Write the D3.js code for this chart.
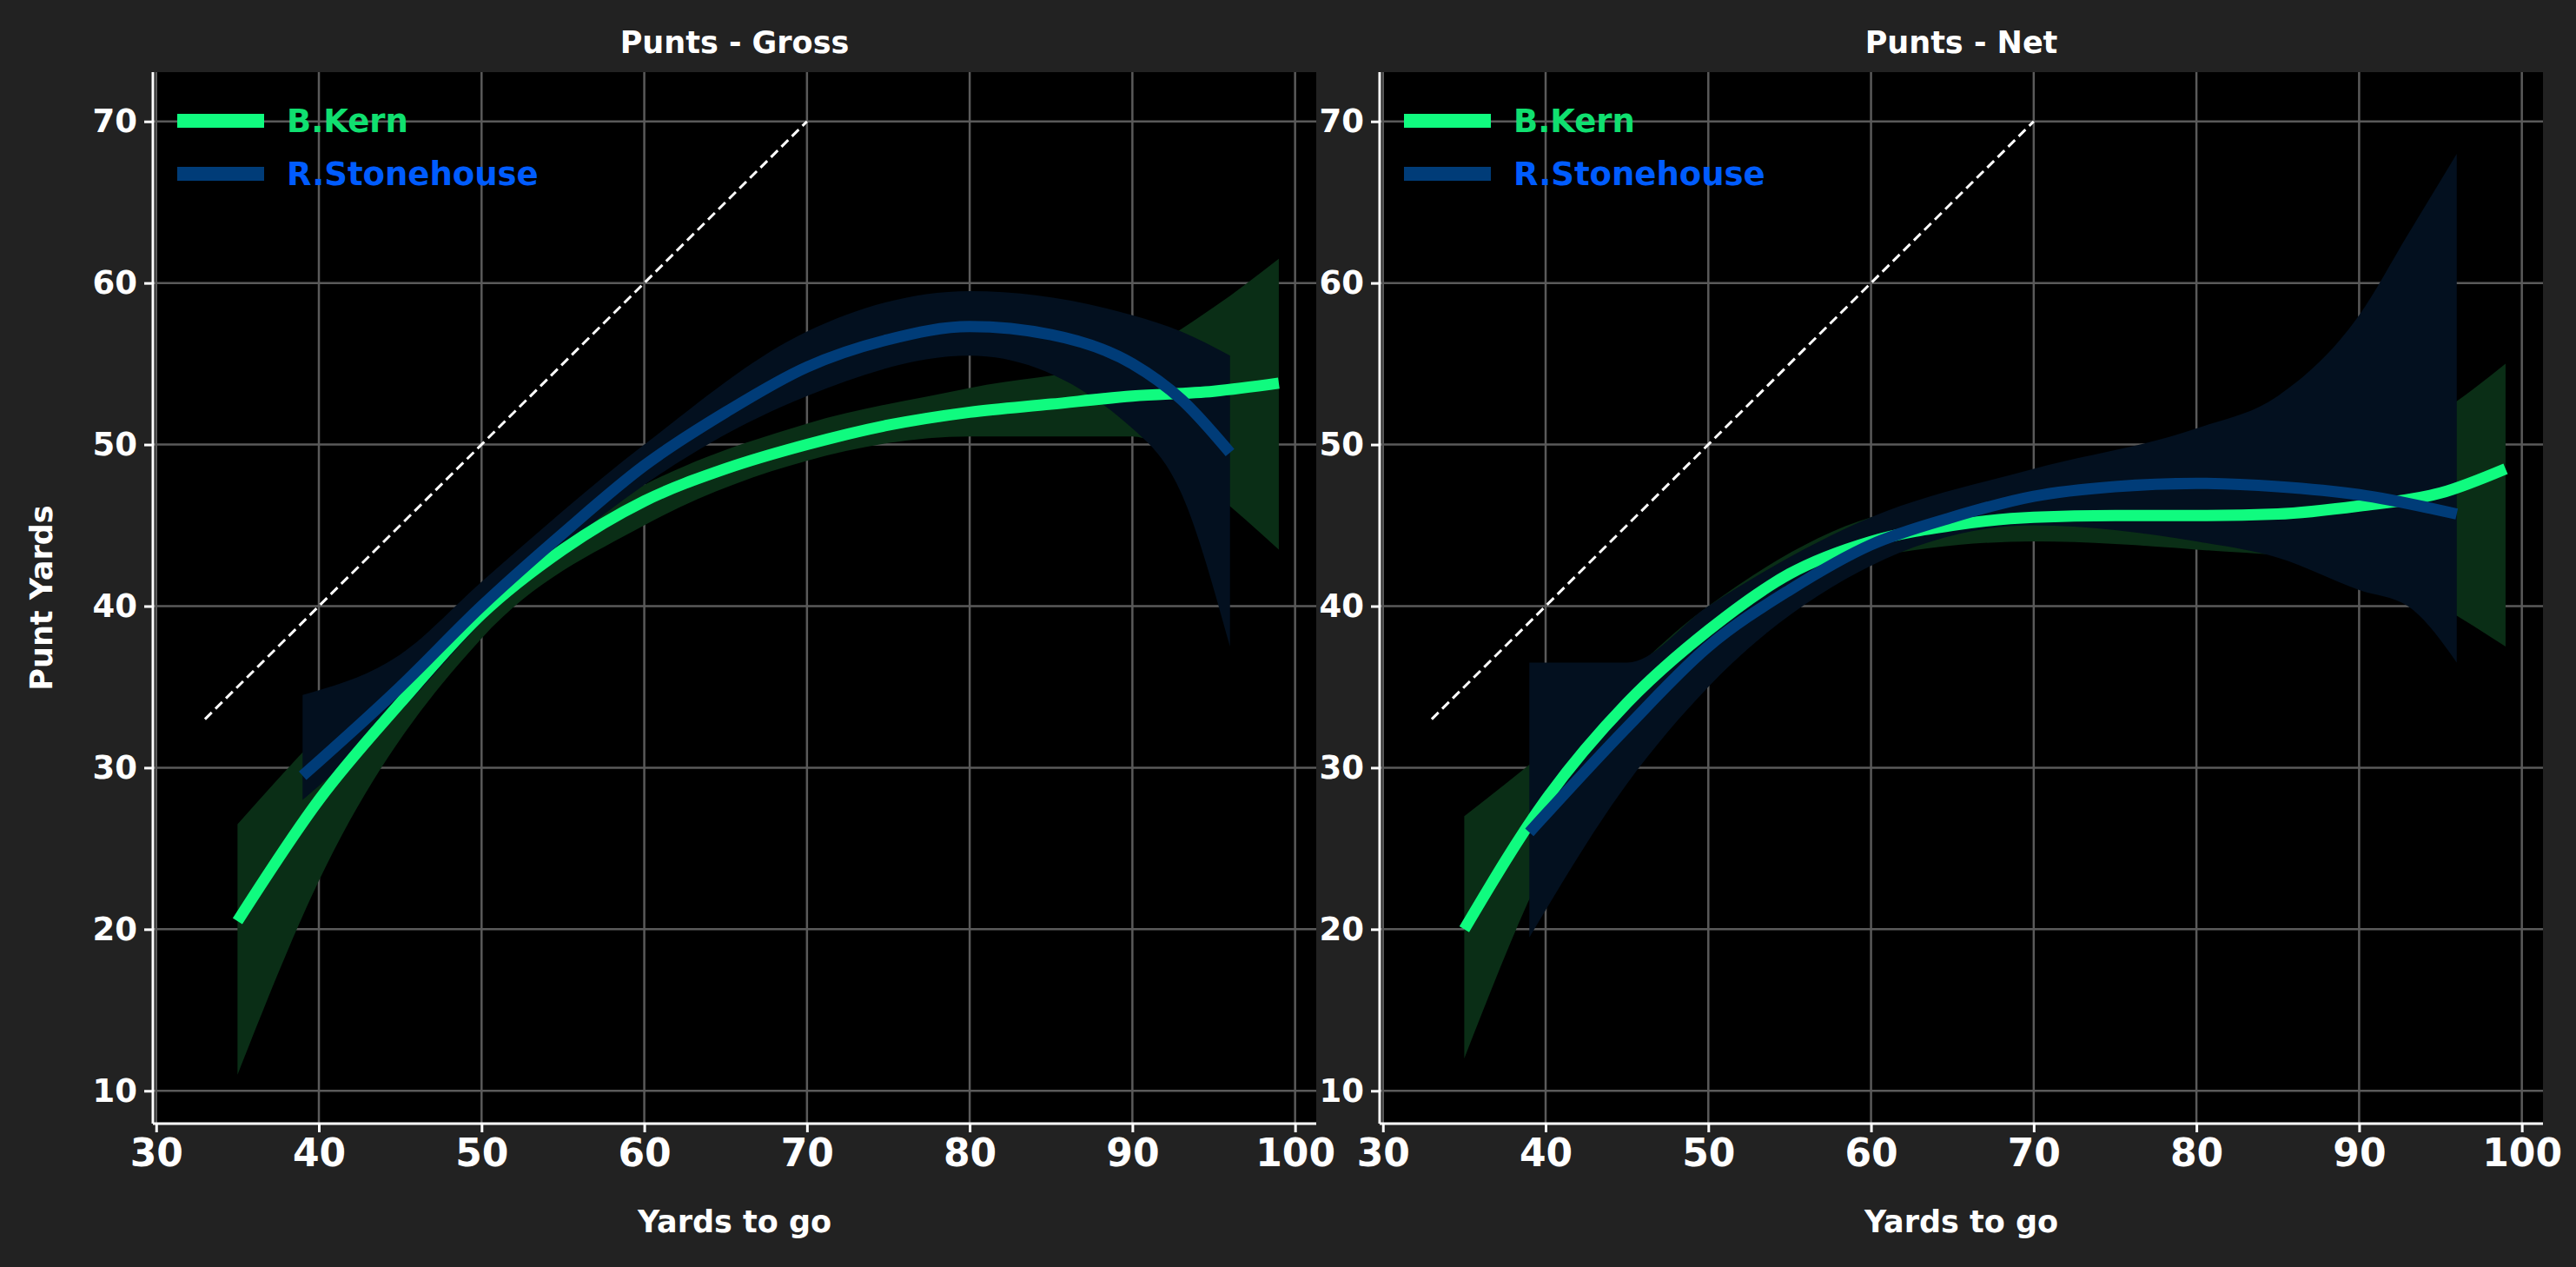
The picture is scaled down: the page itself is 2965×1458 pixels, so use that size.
<!DOCTYPE html>
<html><head><meta charset="utf-8">
<script src="https://cdn.jsdelivr.net/npm/d3@7"></script>
<style>body{margin:0;background:#222222;} text{font-family:"DejaVu Sans",sans-serif;font-weight:bold;}</style>
</head><body>
<script>
// data
const xTicks = [30, 40, 50, 60, 70, 80, 90, 100];
const yTicks = [10, 20, 30, 40, 50, 60, 70];
const diagonal = [[33, 33], [70, 70]];

const grossKernX = [35, 40, 45, 50, 55, 60, 65, 70, 75, 80, 85, 90, 95, 99];
const grossKernY = [20.5, 28, 34, 39.5, 43.5, 46.5, 48.5, 50, 51.2, 52, 52.5, 53, 53.3, 53.8];
const grossKernBandX = [35, 40, 50, 60, 70, 80, 90, 95, 99];
const grossKernLo = [11, 23, 38, 45, 49, 50.5, 50.5, 47, 43.5];
const grossKernHi = [26.5, 32, 41, 47.5, 51.3, 53.5, 55.5, 58.5, 61.5];

const grossStoneX = [39, 45, 50, 55, 60, 65, 70, 75, 80, 85, 90, 93, 96];
const grossStoneY = [29.5, 35, 40, 44.5, 48.7, 52, 54.8, 56.5, 57.3, 56.8, 55, 52.8, 49.5];
const grossStoneBandX = [39, 45, 50, 60, 70, 80, 90, 93, 96];
const grossStoneLo = [28, 33.5, 39, 47.5, 53, 55.5, 51, 47, 37.5];
const grossStoneHi = [34.5, 37, 41.5, 50, 57, 59.5, 58, 57, 55.5];

const netKernX = [35, 40, 45, 50, 55, 60, 65, 70, 75, 80, 85, 90, 95, 99];
const netKernY = [20, 28, 34, 38.5, 42, 44, 45, 45.5, 45.6, 45.6, 45.7, 46.2, 47, 48.5];
const netKernBandX = [35, 40, 50, 60, 70, 80, 90, 95, 99];
const netKernLo = [12, 24, 37, 43, 44, 43.5, 42.5, 40, 37.5];
const netKernHi = [27, 31, 40, 45.5, 47, 47.5, 49.5, 52, 55];

const netStoneX = [39, 45, 50, 55, 60, 65, 70, 75, 80, 85, 90, 96];
const netStoneY = [26, 32.5, 37.5, 41, 43.8, 45.5, 46.8, 47.4, 47.6, 47.4, 46.9, 45.7];
const netStoneBandX = [39, 45, 50, 60, 70, 80, 85, 90, 93, 96];
const netStoneLo = [19.5, 29, 35, 42.5, 45, 44, 43, 41, 40, 36.5];
const netStoneHi = [36.5, 36.5, 40, 45.5, 48.5, 51, 53, 58, 63, 68];

const panels = [
  {title: "Punts - Gross", left: 176, showY: true, series: [
    {name: "B.Kern", x: grossKernX, y: grossKernY, bx: grossKernBandX, lo: grossKernLo, hi: grossKernHi},
    {name: "R.Stonehouse", x: grossStoneX, y: grossStoneY, bx: grossStoneBandX, lo: grossStoneLo, hi: grossStoneHi}]},
  {title: "Punts - Net", left: 1588, showY: false, series: [
    {name: "B.Kern", x: netKernX, y: netKernY, bx: netKernBandX, lo: netKernLo, hi: netKernHi},
    {name: "R.Stonehouse", x: netStoneX, y: netStoneY, bx: netStoneBandX, lo: netStoneLo, hi: netStoneHi}]}
];
const lineColor = {"B.Kern": "#10fb7f", "R.Stonehouse": "#003c78"};
const textColor = {"B.Kern": "#10e070", "R.Stonehouse": "#005cff"};
const bandColor = {"B.Kern": "#0a2e16", "R.Stonehouse": "#03101f"};

const W = 2965, H = 1458, pw = 1339, plotTop = 83, plotBottom = 1293;
const svg = d3.select("body").append("svg").attr("width", W).attr("height", H);
svg.append("rect").attr("width", W).attr("height", H).attr("fill", "#222222");

panels.forEach(p => {
  const x = d3.scaleLinear().domain([29.8, 101.3]).range([p.left, p.left + pw]);
  const y = d3.scaleLinear().domain([7.97, 73.05]).range([plotBottom, plotTop]);
  const g = svg.append("g");
  g.append("rect").attr("x", p.left).attr("y", plotTop).attr("width", pw).attr("height", plotBottom - plotTop).attr("fill", "#000");

  // grid
  g.selectAll(".gx").data(xTicks).join("line").attr("x1", d => x(d)).attr("x2", d => x(d))
    .attr("y1", plotTop).attr("y2", plotBottom).attr("stroke", "#5a5a5a").attr("stroke-width", 2.5);
  g.selectAll(".gy").data(yTicks).join("line").attr("y1", d => y(d)).attr("y2", d => y(d))
    .attr("x1", p.left).attr("x2", p.left + pw).attr("stroke", "#5a5a5a").attr("stroke-width", 2.5);

  // bands
  p.series.forEach(s => {
    const pts = s.bx.map((v, i) => ({x: v, lo: s.lo[i], hi: s.hi[i]}));
    const area = d3.area().curve(d3.curveMonotoneX).x(d => x(d.x)).y0(d => y(d.lo)).y1(d => y(d.hi));
    g.append("path").attr("d", area(pts)).attr("fill", bandColor[s.name]);
  });

  g.append("line").attr("x1", x(diagonal[0][0])).attr("y1", y(diagonal[0][1]))
    .attr("x2", x(diagonal[1][0])).attr("y2", y(diagonal[1][1]))
    .attr("stroke", "#fff").attr("stroke-width", 3).attr("stroke-dasharray", "11,6");

  // lines: Kern first, Stonehouse on top
  p.series.forEach(s => {
    const line = d3.line().curve(d3.curveMonotoneX).x(d => x(d[0])).y(d => y(d[1]));
    g.append("path").attr("d", line(s.x.map((v, i) => [v, s.y[i]])))
      .attr("fill", "none").attr("stroke", lineColor[s.name]).attr("stroke-width", 13);
  });

  // legend
  p.series.forEach((s, i) => {
    const ly = 139 + i * 61;
    g.append("line").attr("x1", p.left + 28).attr("x2", p.left + 128).attr("y1", ly).attr("y2", ly)
      .attr("stroke", lineColor[s.name]).attr("stroke-width", 16);
    g.append("text").attr("x", p.left + 154).attr("y", ly + 13).attr("font-size", 37)
      .attr("fill", textColor[s.name]).text(s.name);
  });

  // axes
  const xa = g.append("g").attr("transform", `translate(0,${plotBottom})`)
    .call(d3.axisBottom(x).tickValues(xTicks).tickSize(10).tickPadding(8));
  xa.selectAll("text").attr("font-size", 44).attr("fill", "#fff");
  const ya = g.append("g").attr("transform", `translate(${p.left},0)`)
    .call(d3.axisLeft(y).tickValues(yTicks).tickSize(10).tickPadding(8));
  ya.selectAll("text").attr("font-size", 37).attr("fill", "#fff");
  [xa, ya].forEach(a => { a.selectAll("line,path").attr("stroke", "#fff").attr("stroke-width", 3); });
  xa.select(".domain").attr("d", `M${p.left},0H${p.left + pw}`);
  ya.select(".domain").attr("d", `M0,${plotTop}V${plotBottom}`);

  g.append("text").attr("x", p.left + pw / 2).attr("y", 61).attr("text-anchor", "middle")
    .attr("font-size", 35).attr("fill", "#fff").text(p.title);
  g.append("text").attr("x", p.left + pw / 2).attr("y", 1418).attr("text-anchor", "middle")
    .attr("font-size", 35).attr("fill", "#fff").text("Yards to go");
  if (p.showY) {
    g.append("text").attr("transform", `translate(60,${(plotTop + plotBottom) / 2}) rotate(-90)`)
      .attr("text-anchor", "middle").attr("font-size", 35).attr("fill", "#fff").text("Punt Yards");
  }
});
</script>
</body></html>
